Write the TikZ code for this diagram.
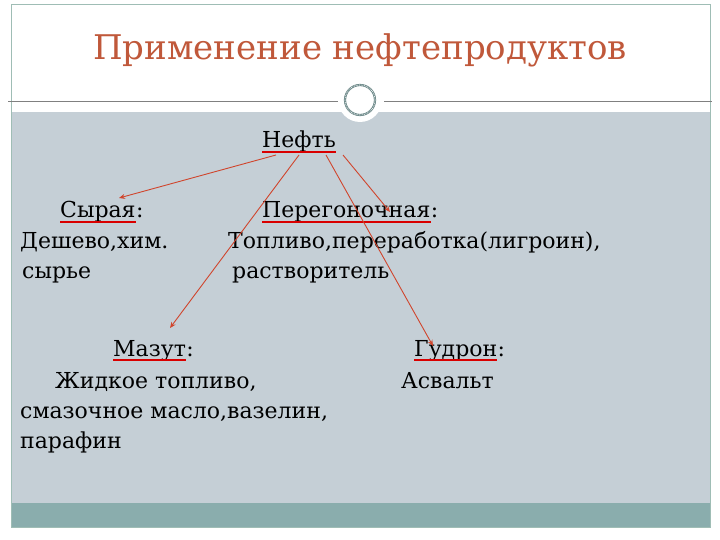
\documentclass[tikz,border=0pt]{standalone}
\usepackage{fontspec}
\setmainfont{DejaVu Serif}
\usetikzlibrary{arrows.meta}
\definecolor{ttl}{HTML}{C0583A}
\definecolor{bg}{HTML}{C5CFD6}
\definecolor{bar}{HTML}{8AADAD}
\definecolor{frm}{HTML}{9FBDB5}
\definecolor{arr}{HTML}{D0452C}
\tikzset{
  txt/.style={font=\fontsize{22}{26}\selectfont, inner sep=0pt, anchor=base west},
  ul/.style={red!85!black, line width=1.6pt},
  con/.style={arr, line width=0.9pt, -{Stealth[length=6pt,width=5pt]}}
}
\begin{document}
\begin{tikzpicture}[x=1pt,y=-1pt]
\useasboundingbox (0,0) rectangle (720,540);
\fill[white] (0,0) rectangle (720,540);
\fill[bg] (11,112) rectangle (710,503);
\fill[bar] (11,503) rectangle (710,527);
\draw[frm, line width=0.8pt] (11,4) rectangle (710,527);
\draw[gray, line width=0.8pt] (8,101) -- (338,101);
\draw[gray, line width=0.8pt] (384,101) -- (712,101);
\fill[white] (360,100) circle (22);
\draw[bar!80!black, line width=2.2pt] (360,100) circle (15);
\draw[white, line width=0.7pt, densely dotted] (360,100) circle (15);
\node[font=\fontsize{34}{40}\selectfont, text=ttl] (title) at (360,50) {Применение нефтепродуктов};
% texts
\node[txt] (neft) at (262,148) {Нефть};
\node[txt] (syr) at (60,218) {Сырая};
\node[txt, anchor=base west] (syrc) at (syr.base east) {:};
\node[txt] (s2) at (20,248) {Дешево,хим.};
\node[txt] (s3) at (22,278) {сырье};
\node[txt] (per) at (262,218) {Перегоночная};
\node[txt, anchor=base west] (perc) at (per.base east) {:};
\node[txt] (p2) at (228,248) {Топливо,переработка(лигроин),};
\node[txt] (p3) at (232,278) {растворитель};
\node[txt] (maz) at (113,356) {Мазут};
\node[txt, anchor=base west] (mazc) at (maz.base east) {:};
\node[txt] (m2) at (55,388) {Жидкое топливо,};
\node[txt] (m3) at (20,418) {смазочное масло,вазелин,};
\node[txt] (m4) at (20,448) {парафин};
\node[txt] (gud) at (414,356) {Гудрон};
\node[txt, anchor=base west] (gudc) at (gud.base east) {:};
\node[txt] (g2) at (401,388) {Асвальт};
% underlines
\foreach \n in {neft,syr,per,maz,gud}
  \draw[ul] ([yshift=-4pt]\n.base west) -- ([yshift=-4pt]\n.base east);
% connectors
\coordinate (n1) at (276,155);
\coordinate (n2) at (299,155);
\coordinate (n3) at (326,155);
\coordinate (n4) at (343,155);
\coordinate (e1) at (119,198);
\coordinate (e2) at (170,328);
\coordinate (e3) at (433,346);
\coordinate (e4) at (390,212);
\draw[con] (n1) -- (e1);
\draw[con] (n2) -- (e2);
\draw[con] (n3) -- (e3);
\draw[con] (n4) -- (e4);
\end{tikzpicture}
\end{document}
